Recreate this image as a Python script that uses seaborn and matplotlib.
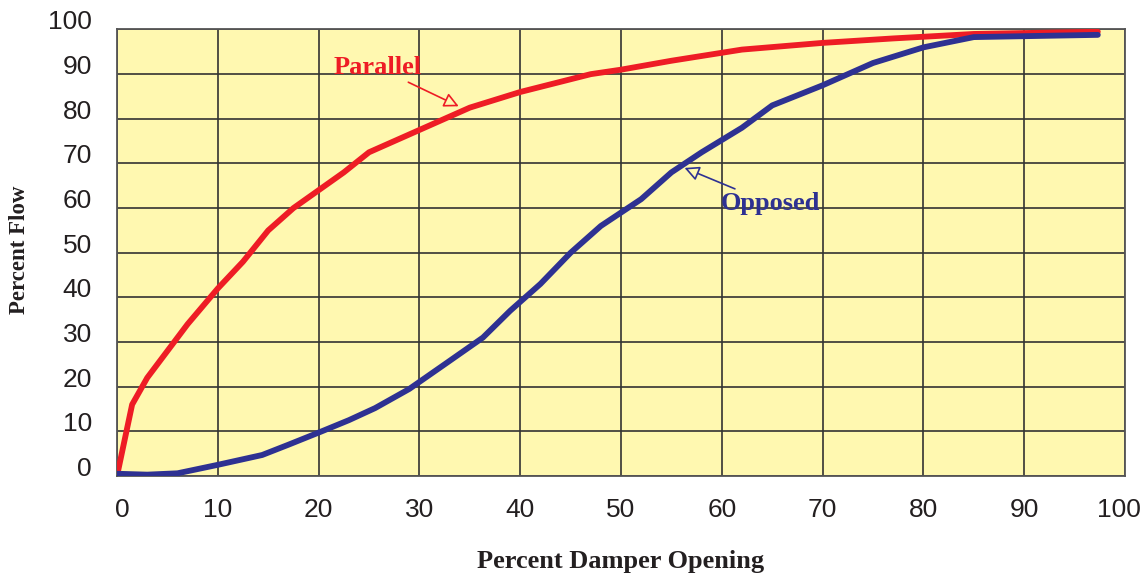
import matplotlib
matplotlib.use("Agg")
import matplotlib.pyplot as plt
import matplotlib.transforms as mtransforms
import numpy as np
import pandas as pd
import seaborn as sns

# Data
parallel_x = [0, 1.5, 3, 5, 7, 10, 12.5, 15, 17.5, 20, 22.5, 25, 27.5, 30, 35, 40, 47, 50, 55, 62, 70, 77, 85, 97.3]
parallel_y = [0, 16, 22, 28, 34, 42, 48, 55, 60, 64, 68, 72.5, 75, 77.5, 82.5, 86, 90, 91, 93, 95.5, 97, 98, 99, 99.5]

opposed_x = [0, 3, 6, 10, 14.4, 17, 20.2, 23, 25.6, 29, 32.5, 36.3, 39, 42, 45, 48, 52, 55, 58, 62, 65, 70, 75, 80, 85, 97.3]
opposed_y = [0.5, 0.3, 0.6, 2.5, 4.7, 7, 9.9, 12.5, 15.2, 19.5, 25, 31, 37, 43, 50, 56, 62, 68, 72.5, 78, 83, 87.5, 92.5, 96, 98.3, 98.8]

x_ticks = [0, 10, 20, 30, 40, 50, 60, 70, 80, 90, 100]
y_ticks = [0, 10, 20, 30, 40, 50, 60, 70, 80, 90, 100]

RED = "#EE1C25"
BLUE = "#2E3192"
BG = "#FFF8B0"

df = pd.concat([
    pd.DataFrame({"x": parallel_x, "y": parallel_y, "s": "Parallel"}),
    pd.DataFrame({"x": opposed_x, "y": opposed_y, "s": "Opposed"}),
])

sns.set_style("white")
plt.rcParams["font.family"] = ["Liberation Sans", "DejaVu Sans"]

fig = plt.figure(figsize=(11.46, 5.75), dpi=100)
ax = fig.add_axes([0.1021, 0.1722, 0.8796, 0.7765])
ax.set_facecolor(BG)

sns.lineplot(data=df, x="x", y="y", hue="s", palette={"Parallel": RED, "Opposed": BLUE},
             sort=False, estimator=None, linewidth=4.2, legend=False, ax=ax, zorder=3)

ax.set_xlim(0, 100)
ax.set_ylim(0, 100)
ax.set_xticks(x_ticks)
ax.set_yticks(y_ticks)
ax.set_xticklabels([str(v) for v in x_ticks])
ax.set_yticklabels([str(v) for v in y_ticks])
ax.grid(True, color="#333333", linewidth=1.2, zorder=1)
ax.set_axisbelow(True)
for sp in ax.spines.values():
    sp.set_color("#555555")
    sp.set_linewidth(1.3)

ax.tick_params(axis="both", length=0, labelsize=19, colors="#231F20")
ax.tick_params(axis="y", pad=18)
ax.tick_params(axis="x", pad=16)

# shift y tick labels upward like the reference
off = mtransforms.ScaledTranslation(0, 9.5 / 100, fig.dpi_scale_trans)
for lbl in ax.get_yticklabels():
    lbl.set_transform(lbl.get_transform() + off)
xl = ax.get_xticklabels()
xl[0].set_transform(xl[0].get_transform() + mtransforms.ScaledTranslation(5 / 100, 0, fig.dpi_scale_trans))
xl[-1].set_transform(xl[-1].get_transform() + mtransforms.ScaledTranslation(-6 / 100, 0, fig.dpi_scale_trans))

serif = ["Liberation Serif", "DejaVu Serif"]
ax.set_xlabel("Percent Damper Opening", fontsize=19, fontweight="bold", family=serif,
              color="#231F20", labelpad=20)
ax.set_ylabel("")
fig.text(20 / 1146, 1 - 250 / 575, "Percent Flow", rotation=90, ha="center", va="center",
         fontsize=16.5, fontweight="bold", family=serif, color="#231F20")

ax.annotate("Parallel", xy=(33.9, 82.8), xytext=(30.2, 91.5), color=RED,
            fontsize=19, fontweight="bold", family=serif, ha="right", va="center",
            arrowprops=dict(arrowstyle="-|>", color=RED, fc=BG, lw=1.2, mutation_scale=22,
                            shrinkA=0, shrinkB=0),
            zorder=4)
ax.annotate("Opposed", xy=(56.3, 69.0), xytext=(59.9, 61.0), color=BLUE,
            fontsize=19, fontweight="bold", family=serif, ha="left", va="center",
            arrowprops=dict(arrowstyle="-|>", color=BLUE, fc=BG, lw=1.2, mutation_scale=22,
                            shrinkA=0, shrinkB=0),
            zorder=4)

fig.savefig("out.png", dpi=100)
